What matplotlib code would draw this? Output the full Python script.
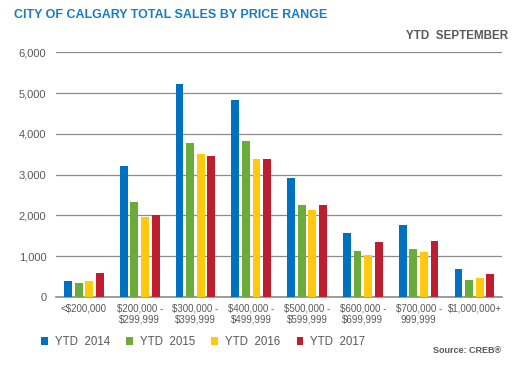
import matplotlib.pyplot as plt
import numpy as np

plt.rcParams['font.family'] = ['Liberation Sans', 'DejaVu Sans']

ranges = ['<$200,000', '$200,000 -\n$299,999', '$300,000 -\n$399,999', '$400,000 -\n$499,999',
          '$500,000 -\n$599,999', '$600,000 -\n$699,999', '$700,000 -\n999,999', '$1,000,000+']
years = ['YTD  2014', 'YTD  2015', 'YTD  2016', 'YTD  2017']
ytd2014 = [385, 3205, 5230, 4825, 2925, 1570, 1765, 680]
ytd2015 = [330, 2320, 3780, 3835, 2265, 1120, 1185, 415]
ytd2016 = [400, 1960, 3515, 3370, 2125, 1030, 1110, 475]
ytd2017 = [580, 2010, 3465, 3385, 2265, 1350, 1380, 550]
colors = ['#0070c0', '#6aab3c', '#ffc90e', '#be1e2d']

grey = '#595959'
fig = plt.figure(figsize=(5.26, 3.73), dpi=100)
ax = fig.add_axes([0.1065, 0.204, 0.8485, 0.656])

x = np.arange(len(ranges))
w = 0.14
pitch = 0.19
for k, (vals, c, lab) in enumerate(zip([ytd2014, ytd2015, ytd2016, ytd2017], colors, years)):
    ax.bar(x + (k - 1.5) * pitch, vals, w, color=c, label=lab, zorder=3)

ax.set_xlim(-0.5, len(ranges) - 0.5)
ax.set_ylim(0, 6000)
ax.set_yticks(range(0, 6001, 1000))
ax.set_yticklabels([f'{v:,}' for v in range(0, 6001, 1000)])
ax.yaxis.grid(True, color='#8c8c8c', linewidth=0.9, zorder=0)
for s in ['top', 'right', 'left']:
    ax.spines[s].set_visible(False)
ax.spines['bottom'].set_color('#8c8c8c')
ax.spines['bottom'].set_linewidth(1.2)
ax.set_xticks(x)
ax.set_xticklabels(ranges, fontsize=7, color=grey, linespacing=1.1)
ax.tick_params(axis='y', length=0, labelsize=8, labelcolor=grey, pad=7)
ax.tick_params(axis='x', length=0, pad=5)

fig.text(0.027, 0.96, 'CITY OF CALGARY TOTAL SALES BY PRICE RANGE', fontsize=9,
         fontweight='bold', color='#1a7dc0', va='center')
fig.text(0.966, 0.903, 'YTD  SEPTEMBER', fontsize=8.4, fontweight='bold', color=grey,
         ha='right', va='center')
fig.text(0.953, 0.059, 'Source: CREB®', fontsize=6.5, fontweight='bold', color=grey,
         ha='right', va='center')

fig.legend(loc='center left', bbox_to_anchor=(0.058, 0.083), ncol=4, frameon=False,
           fontsize=8.3, handlelength=0.6, handleheight=0.6, handletextpad=0.6,
           columnspacing=1.4, labelcolor=grey)

fig.savefig('out.png', dpi=100)
